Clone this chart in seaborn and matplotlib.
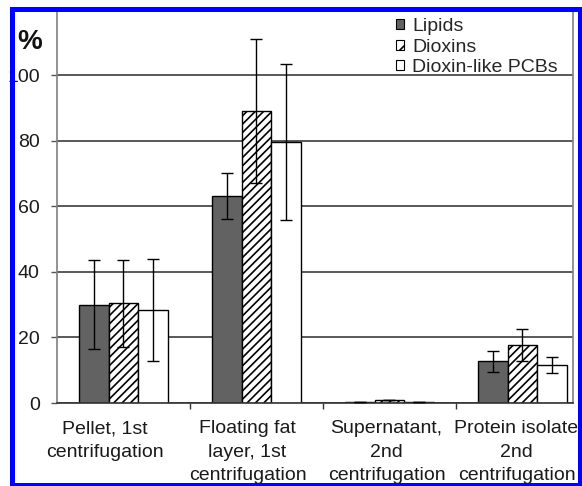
import matplotlib
matplotlib.use("Agg")
import numpy as np
import pandas as pd
import seaborn as sns
import matplotlib.pyplot as plt
import matplotlib.transforms as mtransforms
from matplotlib.patches import Patch, Rectangle

# ---- data -------------------------------------------------------------
fractions = [
    "Pellet, 1st\ncentrifugation",
    "Floating fat\nlayer, 1st\ncentrifugation",
    "Supernatant,\n2nd\ncentrifugation",
    "Protein isolate\n2nd\ncentrifugation",
]
series = ["Lipids", "Dioxins", "Dioxin-like PCBs"]

lipids = [30.0, 63.2, 0.4, 12.8]
dioxins = [30.4, 89.0, 0.9, 17.7]
pcbs = [28.3, 79.5, 0.4, 11.6]

lipids_err = [13.5, 7.0, 0.0, 3.2]
dioxins_err = [13.2, 22.0, 0.0, 5.0]
pcbs_err = [15.5, 23.8, 0.0, 2.5]

yticks = [0, 20, 40, 60, 80, 100]

# ---- styling ----------------------------------------------------------
sns.set_style("white")
plt.rcParams["font.family"] = ["Liberation Sans", "DejaVu Sans"]
plt.rcParams["hatch.linewidth"] = 1.2

bar_colors = ["#626262", "#ffffff", "#ffffff"]
bar_hatches = ["", "////", ""]

W, H = 582, 486
fig = plt.figure(figsize=(W / 100, H / 100), dpi=100)
fig.patch.set_facecolor("white")
ax = fig.add_axes([57 / W, 1 - 403 / H, (573 - 57) / W, 393.6 / H])

values = {"Lipids": lipids, "Dioxins": dioxins, "Dioxin-like PCBs": pcbs}
errors = [lipids_err, dioxins_err, pcbs_err]
df = pd.DataFrame(
    [(f, s, v) for s in series for f, v in zip(fractions, values[s])],
    columns=["fraction", "series", "value"],
)

sns.barplot(
    data=df, x="fraction", y="value", hue="series",
    order=fractions, hue_order=series,
    palette=bar_colors, saturation=1, width=0.67,
    errorbar=None, edgecolor="black", linewidth=1.0,
    legend=False, ax=ax, zorder=2,
)

# hatching and error bars per series
for cont, hatch, err in zip(ax.containers, bar_hatches, errors):
    xs, ys = [], []
    for bar in cont:
        bar.set_hatch(hatch)
        xs.append(bar.get_x() + bar.get_width() / 2)
        ys.append(bar.get_height())
    ax.errorbar(xs, ys, yerr=err, fmt="none", ecolor="black",
                elinewidth=1.0, capsize=4.3, capthick=1.0, zorder=3)

# ---- axes -------------------------------------------------------------
ax.set_ylim(0, 120)
ax.set_xlim(-0.5, 3.38)
ax.set_yticks(yticks)
ax.set_yticklabels([str(t) for t in yticks])
ax.yaxis.grid(True, color="#3c3c3c", linewidth=1.2)
ax.set_axisbelow(True)
ax.set_xlabel("")
ax.set_ylabel("")

# category boundaries as tick marks, names centred between them
ax.set_xticks([0.5, 1.5, 2.5])
ax.set_xticklabels([])
ax.set_xticks(range(len(fractions)), minor=True)
ax.set_xticklabels(fractions, minor=True, fontsize=14, color="#1a1a1a",
                   linespacing=1.5)
ax.tick_params(axis="x", which="major", length=4, width=1, color="#333333",
               direction="out", bottom=True)
ax.tick_params(axis="x", which="minor", length=0, pad=12.5, bottom=True)
ax.tick_params(axis="y", length=4, width=1, color="#555555", direction="out",
               left=True, pad=8.5, labelsize=14, labelcolor="#1a1a1a")

label_shift_px = [-19, -9, -3, -6]
for lbl, dx in zip(ax.get_xticklabels(minor=True), label_shift_px):
    lbl.set_transform(lbl.get_transform() +
                      mtransforms.ScaledTranslation(dx / 100, 0, fig.dpi_scale_trans))

ax.spines["top"].set_visible(False)
for side in ["left", "right"]:
    ax.spines[side].set_color("#808080")
    ax.spines[side].set_linewidth(1.2)
ax.spines["bottom"].set_color("#333333")
ax.spines["bottom"].set_linewidth(1.2)

# legend
handles = [Patch(facecolor=c, edgecolor="black", hatch=h, linewidth=0.8)
           for c, h in zip(bar_colors, ["", "//", ""])]
ax.legend(handles, series, loc="upper left",
          bbox_to_anchor=(396 / W, 1 - 18 / H), bbox_transform=fig.transFigure,
          frameon=False, fontsize=14, handlelength=0.42, handleheight=0.42,
          handletextpad=0.42, labelspacing=0.18, borderpad=0, borderaxespad=0)

fig.text(30 / W, 1 - 42 / H, "%", fontsize=20, fontweight="bold",
         ha="center", va="center", color="#111111")

# page margin and frame around the figure
fig.add_artist(Rectangle((0, 0), 9 / W, 1, transform=fig.transFigure,
                         facecolor="white", edgecolor="none", zorder=9))
fig.add_artist(Rectangle((0, 1 - 7 / H), 1, 7 / H, transform=fig.transFigure,
                         facecolor="white", edgecolor="none", zorder=9))
fig.add_artist(Rectangle((11.5 / W, 1 - 484.5 / H), (579.5 - 11.5) / W,
                         (484.5 - 9.5) / H, transform=fig.transFigure,
                         facecolor="none", edgecolor="#0000ff",
                         linewidth=3.6, zorder=10))

fig.savefig("out.png", dpi=100)
